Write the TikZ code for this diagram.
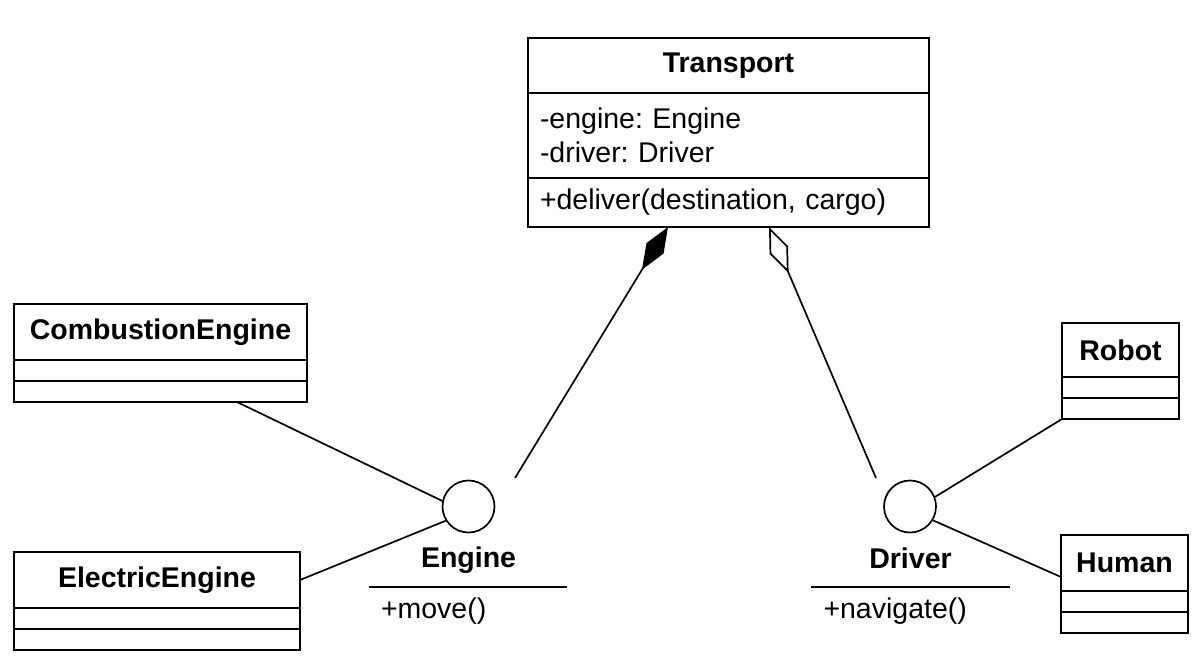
\documentclass[tikz,border=0pt]{standalone}
\usepackage{fontspec}
\setmainfont{Liberation Sans}
\usepackage{tikz}
\usetikzlibrary{shapes.geometric, arrows.meta, positioning}
\frenchspacing
\newcommand{\umlfont}{\fontsize{28.5}{34}\selectfont}
\tikzstyle{classhead} = [rectangle, draw=black, line width=1.7pt, outer sep=0pt, inner sep=0pt, minimum height=55pt, font=\umlfont\bfseries, text centered]
\tikzstyle{classbody} = [rectangle, draw=black, line width=1.7pt, outer sep=0pt, inner xsep=12pt, inner ysep=0pt, font=\umlfont, align=left]
\tikzstyle{classempty} = [rectangle, draw=black, line width=1.7pt, outer sep=0pt, inner sep=0pt, minimum height=21pt]
\tikzstyle{iface} = [circle, draw=black, line width=1.7pt, minimum size=52pt, inner sep=0pt]
\tikzstyle{ifacename} = [font=\umlfont\bfseries, inner sep=0pt]
\tikzstyle{ifaceops} = [font=\umlfont, inner xsep=12pt, inner ysep=0pt, minimum height=48pt, align=left, text width=174pt]
\tikzstyle{link} = [line width=1.7pt]
\tikzstyle{composition} = [line width=1.7pt, {Diamond[length=50pt,width=20pt]}-]
\tikzstyle{aggregation} = [line width=1.7pt, {Diamond[open,length=50pt,width=20pt]}-]

\begin{document}
\begin{tikzpicture}[x=1pt, y=-1pt]
        \useasboundingbox (0,0) rectangle (1197,656);
        % Transport
        \node (trhead) [classhead, minimum width=401pt, minimum height=55pt] at (728.5,65.5) {Transport};
        \node (trattr) [classbody, text width=377pt, minimum height=85pt, below=0pt of trhead] {-engine: Engine\\-driver: Driver};
        \node (trops) [classbody, text width=377pt, minimum height=49pt, below=0pt of trattr] {+deliver(destination, cargo)};
        % engines
        \node (cbhead) [classhead, minimum width=293pt, minimum height=56pt] at (160.5,332) {CombustionEngine};
        \node (cbattr) [classempty, minimum width=293pt, below=0pt of cbhead] {};
        \node (cbops) [classempty, minimum width=293pt, below=0pt of cbattr] {};
        \node (eehead) [classhead, minimum width=286pt, minimum height=56pt] at (157,580) {ElectricEngine};
        \node (eeattr) [classempty, minimum width=286pt, below=0pt of eehead] {};
        \node (eeops) [classempty, minimum width=286pt, below=0pt of eeattr] {};
        % drivers
        \node (rbhead) [classhead, minimum width=117pt, minimum height=54pt] at (1120.5,350) {Robot};
        \node (rbattr) [classempty, minimum width=117pt, below=0pt of rbhead] {};
        \node (rbops) [classempty, minimum width=117pt, below=0pt of rbattr] {};
        \node (hmhead) [classhead, minimum width=127pt, minimum height=56pt] at (1124.5,563) {Human};
        \node (hmattr) [classempty, minimum width=127pt, below=0pt of hmhead] {};
        \node (hmops) [classempty, minimum width=127pt, below=0pt of hmattr] {};
        % interfaces
        \node (engine) [iface] at (468.5,506.5) {};
        \node (engname) [ifacename] at (468.5,560) {Engine};
        \node (engops) [ifaceops] at (468,611) {+move()};
        \node (driver) [iface] at (910,506.5) {};
        \node (drvname) [ifacename] at (910.5,558) {Driver};
        \node (drvops) [ifaceops] at (910.5,611) {+navigate()};
        \coordinate (engtip) at (515,478);
        \coordinate (drvtip) at (876,478);
        \draw [link] (engops.north west) -- (engops.north east);
        \draw [link] (drvops.north west) -- (drvops.north east);
        \draw [composition] ([xshift=-60.5pt]trops.south) -- (engtip);
        \draw [aggregation] ([xshift=40.5pt]trops.south) -- (drvtip);
        \draw [link] ([xshift=76.5pt]cbops.south) -- (engine.168);
        \draw [link] (eehead.east) -- (engine.212);
        \draw [link] (rbops.south west) -- (driver.21);
        \draw [link] ([yshift=-14pt]hmhead.west) -- (driver.-31);
\end{tikzpicture}
\end{document}
